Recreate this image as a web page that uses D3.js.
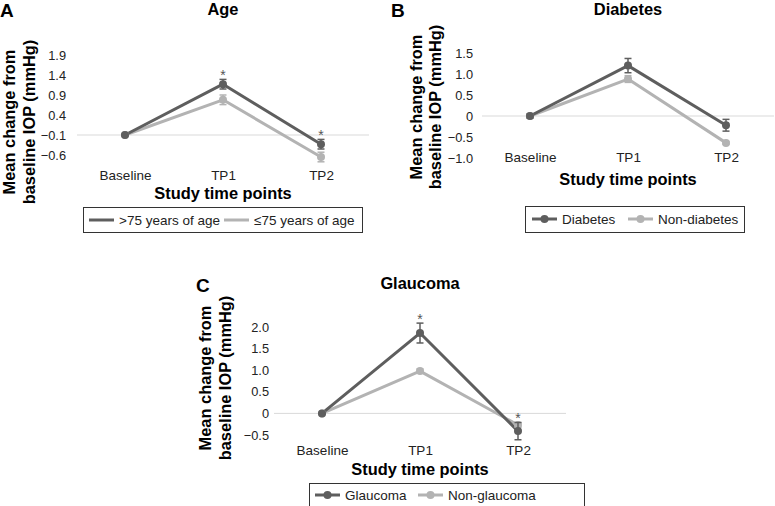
<!DOCTYPE html>
<html><head><meta charset="utf-8">
<script src="https://cdn.jsdelivr.net/npm/d3@7"></script>
<style>
body{margin:0;background:#fff;}
text{font-family:"Liberation Sans",Arial,sans-serif;}
</style></head>
<body><svg id="c" width="775" height="506"></svg>
<script>
// ---------- data ----------
const categories = ["Baseline", "TP1", "TP2"];

const ageTicks = [-0.6, -0.1, 0.4, 0.9, 1.4, 1.9];
const ageTickLabels = ["\u22120.6", "\u22120.1", "0.4", "0.9", "1.4", "1.9"];
const ageOver75 = [-0.1, 1.17, -0.33];
const ageOver75Err = [0.02, 0.12, 0.12];
const ageUnder75 = [-0.1, 0.78, -0.65];
const ageUnder75Err = [0.02, 0.12, 0.12];
const ageStars = [false, true, true];
const ageLegend = [">75 years of age", "\u226475 years of age"];

const diabTicks = [-1.0, -0.5, 0, 0.5, 1.0, 1.5];
const diabTickLabels = ["\u22121.0", "\u22120.5", "0", "0.5", "1.0", "1.5"];
const diabetes = [0, 1.2, -0.22];
const diabetesErr = [0.05, 0.17, 0.14];
const nonDiabetes = [0, 0.88, -0.64];
const nonDiabetesErr = [0.03, 0.08, 0.03];
const diabStars = [false, false, false];
const diabLegend = ["Diabetes", "Non-diabetes"];

const glaucTicks = [-0.5, 0, 0.5, 1.0, 1.5, 2.0];
const glaucTickLabels = ["\u22120.5", "0", "0.5", "1.0", "1.5", "2.0"];
const glaucoma = [0, 1.86, -0.41];
const glaucomaErr = [0.02, 0.23, 0.2];
const nonGlaucoma = [0, 0.98, -0.27];
const nonGlaucomaErr = [0.02, 0.05, 0.05];
const glaucStars = [false, true, true];
const glaucLegend = ["Glaucoma", "Non-glaucoma"];

// ---------- drawing ----------
const DARK = "#5e5e5e", LIGHT = "#b3b3b3";
const svg = d3.select("#c");

function panel(o) {
  const g = svg.append("g");
  const x = d3.scalePoint().domain(categories).range(o.xr);
  const y = d3.scaleLinear().domain([o.ticks[0], o.ticks[o.ticks.length - 1]]).range(o.yr);

  // letter + title
  g.append("text").attr("x", o.letter[0]).attr("y", o.letter[1]).attr("font-size", 19)
    .attr("font-weight", "bold").text(o.letterText);
  g.append("text").attr("x", x("TP1")).attr("y", o.titleY).attr("font-size", 16.4)
    .attr("font-weight", "bold").attr("text-anchor", "middle").text(o.title);

  // grid line
  g.append("line").attr("x1", x(categories[0]) - 48).attr("x2", x(categories[2]) + 48)
    .attr("y1", y(o.gridVal)).attr("y2", y(o.gridVal)).attr("stroke", "#d9d9d9").attr("stroke-width", 1);

  // y axis labels
  const yAxis = d3.axisLeft(y).tickValues(o.ticks).tickSize(0).tickPadding(0)
    .tickFormat((d, i) => o.tickLabels[i]);
  const ya = g.append("g").attr("transform", `translate(${o.tickRight},0)`).call(yAxis);
  ya.select(".domain").remove();
  ya.selectAll("text").attr("font-size", 12.8).attr("fill", "#222").attr("font-family", "Liberation Sans, Arial, sans-serif");

  // x axis labels
  const xAxis = d3.axisBottom(x).tickSize(0).tickPadding(0);
  const xa = g.append("g").attr("transform", `translate(0,${o.catY})`).call(xAxis);
  xa.select(".domain").remove();
  xa.selectAll("text").attr("font-size", 13.5).attr("fill", "#222").attr("dy", 0)
    .attr("font-family", "Liberation Sans, Arial, sans-serif");

  // axis titles
  g.append("text").attr("x", x("TP1")).attr("y", o.xTitleY).attr("font-size", 16.4)
    .attr("font-weight", "bold").attr("text-anchor", "middle").text("Study time points");
  const yt = g.append("text").attr("transform", `translate(0,${o.yTitleMid}) rotate(-90)`)
    .attr("font-size", 16.4).attr("font-weight", "bold").attr("text-anchor", "middle");
  yt.append("tspan").attr("x", 0).attr("y", o.yTitleX[0]).text("Mean change from");
  yt.append("tspan").attr("x", 0).attr("y", o.yTitleX[1]).text("baseline IOP (mmHg)");

  const series = [
    {vals: o.s2, err: o.e2, color: LIGHT},
    {vals: o.s1, err: o.e1, color: DARK}
  ];
  const line = d3.line().x((d, i) => x(categories[i])).y(d => y(d));
  series.forEach(s => {
    g.append("path").attr("d", line(s.vals)).attr("fill", "none")
      .attr("stroke", s.color).attr("stroke-width", 3).attr("stroke-linejoin", "round");
  });
  series.forEach(s => {
    const sg = g.append("g");
    s.vals.forEach((v, i) => {
      const cx = x(categories[i]);
      const y1 = y(v + s.err[i]), y2 = y(v - s.err[i]);
      sg.append("line").attr("x1", cx).attr("x2", cx).attr("y1", y1).attr("y2", y2)
        .attr("stroke", s.color).attr("stroke-width", 1.5);
      [y1, y2].forEach(yy => sg.append("line").attr("x1", cx - 3.5).attr("x2", cx + 3.5)
        .attr("y1", yy).attr("y2", yy).attr("stroke", s.color).attr("stroke-width", 1.5));
      sg.append("circle").attr("cx", cx).attr("cy", y(v)).attr("r", 4).attr("fill", s.color);
    });
  });

  // stars
  o.stars.forEach((st, i) => {
    if (!st) return;
    const top = Math.max(o.s1[i] + o.e1[i], o.s2[i] + o.e2[i]);
    g.append("text").attr("x", x(categories[i])).attr("y", y(top) + 1)
      .attr("font-size", 14).attr("fill", "#555").attr("text-anchor", "middle").text("*");
  });

  // legend
  const L = o.legend;
  g.append("rect").attr("x", L.box[0] + 0.5).attr("y", L.box[1] + 0.5)
    .attr("width", L.box[2]).attr("height", L.box[3]).attr("fill", "none").attr("stroke", "#333");
  [[DARK, o.legendText[0], L.items[0]], [LIGHT, o.legendText[1], L.items[1]]].forEach(([c, t, lx]) => {
    g.append("line").attr("x1", lx).attr("x2", lx + 25).attr("y1", L.cy).attr("y2", L.cy)
      .attr("stroke", c).attr("stroke-width", 3);
    if (L.markers) g.append("circle").attr("cx", lx + 12.5).attr("cy", L.cy).attr("r", 4).attr("fill", c);
    g.append("text").attr("x", lx + 30).attr("y", L.cy + 5).attr("font-size", 13.5)
      .attr("fill", "#222").text(t);
  });
}

panel({
  letterText: "A", letter: [0, 17], title: "Age", titleY: 15,
  xr: [125, 321], yr: [155, 55], ticks: ageTicks, tickLabels: ageTickLabels, tickRight: 66,
  gridVal: -0.1, catY: 180, xTitleY: 199, yTitleMid: 122, yTitleX: [15, 35],
  s1: ageOver75, e1: ageOver75Err, s2: ageUnder75, e2: ageUnder75Err, stars: ageStars,
  legendText: ageLegend,
  legend: {box: [83, 207, 279, 25], cy: 220, items: [89, 224], markers: false}
});
panel({
  letterText: "B", letter: [391, 17], title: "Diabetes", titleY: 15,
  xr: [530, 726], yr: [158, 53], ticks: diabTicks, tickLabels: diabTickLabels, tickRight: 473,
  gridVal: 0, catY: 162, xTitleY: 185, yTitleMid: 107, yTitleX: [422, 441],
  s1: diabetes, e1: diabetesErr, s2: nonDiabetes, e2: nonDiabetesErr, stars: diabStars,
  legendText: diabLegend,
  legend: {box: [525, 206, 219, 26], cy: 219, items: [532, 628], markers: true}
});
panel({
  letterText: "C", letter: [196, 292], title: "Glaucoma", titleY: 289,
  xr: [322, 518], yr: [435, 327], ticks: glaucTicks, tickLabels: glaucTickLabels, tickRight: 269,
  gridVal: 0, catY: 455, xTitleY: 475, yTitleMid: 378, yTitleX: [211, 231],
  s1: glaucoma, e1: glaucomaErr, s2: nonGlaucoma, e2: nonGlaucomaErr, stars: glaucStars,
  legendText: glaucLegend,
  legend: {box: [309, 483, 275, 24], cy: 495, items: [315, 418], markers: true}
});
</script></body></html>
